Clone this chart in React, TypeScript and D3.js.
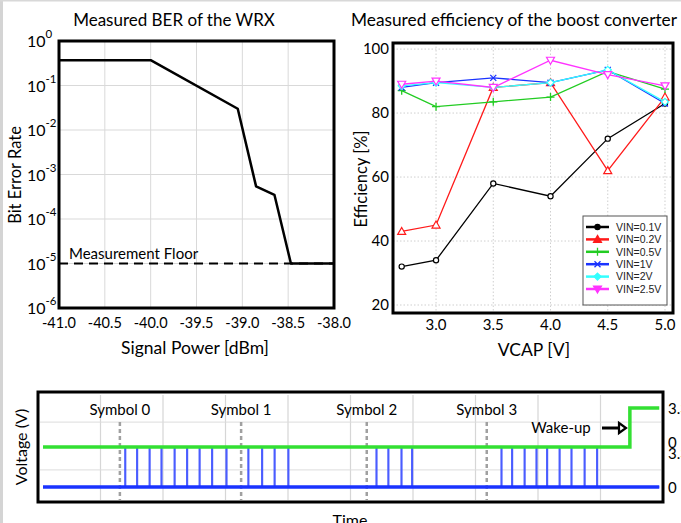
import * as d3 from 'd3';

// --- BER plot data ---
const berPower = [-41, -40, -39.05, -38.85, -38.65, -38.47, -38.0];
const berRate = [0.37, 0.37, 0.03, 5.4e-4, 3.5e-4, 1e-5, 1e-5];
const floorLevel = 1e-5;
const berXTicks = [-41, -40.5, -40, -39.5, -39, -38.5, -38];
const berExps = [0, -1, -2, -3, -4, -5, -6];

// --- efficiency plot data ---
const vcap = [2.7, 3.0, 3.5, 4.0, 4.5, 5.0];
const eff01 = [32, 34, 58, 54, 72, 83];
const eff02 = [43, 45, 88, 89.5, 62, 85];
const eff05 = [87, 82, 83.5, 85, 93, 87.5];
const eff1 = [88, 89.5, 91, 89.5, 93.5, 83];
const eff2 = [88.5, 89.5, 88, 89.5, 93.5, 83.5];
const eff25 = [89, 90, 88, 96.5, 92, 88.5];
const effSeries = [
  { name: 'VIN=0.1V', values: eff01, color: '#000000', marker: 'circle' },
  { name: 'VIN=0.2V', values: eff02, color: '#ff1a1a', marker: 'tri' },
  { name: 'VIN=0.5V', values: eff05, color: '#22cc22', marker: 'plus' },
  { name: 'VIN=1V', values: eff1, color: '#1a33ff', marker: 'x' },
  { name: 'VIN=2V', values: eff2, color: '#33ffff', marker: 'diamond' },
  { name: 'VIN=2.5V', values: eff25, color: '#ff33ff', marker: 'triDown' },
];
const effXTicks = [3.0, 3.5, 4.0, 4.5, 5.0];
const effYTicks = [20, 40, 60, 80, 100];

// --- scope trace data (time in divisions) ---
const pulseTimes = [
  1.39, 1.58, 1.78, 1.97, 2.18, 2.38, 2.58, 2.78, 3.01,
  3.36, 3.58, 3.78, 4.0,
  5.41, 5.6, 5.81, 5.98,
  7.41, 7.58, 7.78, 7.97, 8.14, 8.34, 8.53, 8.74, 8.94,
];
const symbolTimes = [1.31, 3.25, 5.26, 7.18];
const symbolLabels = ['Symbol 0', 'Symbol 1', 'Symbol 2', 'Symbol 3'];
const traceStart = 0.08;
const traceEnd = 9.94;
const wakeTime = 9.47;
const vHigh = 3.3;
const greenOffset = 3.39;
const scopeGridX = [1, 2, 3, 4, 5, 6, 7, 8, 9];
const scopeGridY = [1.45, 5.5];

const FONT = 'Lato, "Open Sans", sans-serif';

function Marker({ type, x, y, color, filled }: any) {
  const fill = filled ? color : 'white';
  if (type === 'circle') return <circle cx={x} cy={y} r={2.6} fill={fill} stroke={color} strokeWidth={1.2} />;
  if (type === 'tri')
    return <path d={`M${x},${y - 4}L${x + 4},${y + 3}L${x - 4},${y + 3}Z`} fill={fill} stroke={color} strokeWidth={1.2} />;
  if (type === 'triDown')
    return <path d={`M${x},${y + 4}L${x + 4},${y - 3}L${x - 4},${y - 3}Z`} fill={fill} stroke={color} strokeWidth={1.2} />;
  if (type === 'diamond')
    return <path d={`M${x},${y - 3.5}L${x + 3.5},${y}L${x},${y + 3.5}L${x - 3.5},${y}Z`} fill={fill} stroke={color} strokeWidth={1.2} />;
  if (type === 'plus')
    return <path d={`M${x - 4},${y}H${x + 4}M${x},${y - 4}V${y + 4}`} stroke={color} strokeWidth={1.3} />;
  return <path d={`M${x - 3},${y - 3}L${x + 3},${y + 3}M${x - 3},${y + 3}L${x + 3},${y - 3}`} stroke={color} strokeWidth={1.3} />;
}

function BerChart() {
  const x = d3.scaleLinear().domain([-41, -38]).range([59, 334]);
  const y = d3.scaleLog().domain([1e-6, 1]).range([308, 41]);
  const line = d3.line<number>().x((_, i) => x(berPower[i])).y((d) => y(d));
  return (
    <g fontFamily={FONT}>
      <text x={174} y={26} fontSize={17} textAnchor="middle">Measured BER of the WRX</text>
      {berXTicks.map((t) => (
        <line key={'gx' + t} x1={x(t)} x2={x(t)} y1={41} y2={308} stroke="#d9d9d9" strokeWidth={1} />
      ))}
      {berExps.map((e) => (
        <line key={'gy' + e} x1={59} x2={334} y1={y(10 ** e)} y2={y(10 ** e)} stroke="#d9d9d9" strokeWidth={1} />
      ))}
      <line x1={x(-41)} x2={x(-38)} y1={y(floorLevel)} y2={y(floorLevel)} stroke="#000" strokeWidth={2} strokeDasharray="9,6" />
      <path d={line(berRate) || ''} fill="none" stroke="#000" strokeWidth={2.5} strokeLinejoin="round" />
      <rect x={59} y={41} width={275} height={267} fill="none" stroke="#000" strokeWidth={3} />
      <text x={69} y={y(floorLevel) - 5} fontSize={15}>Measurement Floor</text>
      {berExps.map((e) => (
        <text key={'ty' + e} x={27} y={y(10 ** e) + 6} fontSize={16}>
          10<tspan dy={-9} fontSize={11.5}>{e === 0 ? '0' : '-' + Math.abs(e)}</tspan>
        </text>
      ))}
      {berXTicks.map((t) => (
        <text key={'tx' + t} x={x(t)} y={328} fontSize={14.5} textAnchor="middle">{t.toFixed(1)}</text>
      ))}
      <text x={195} y={354} fontSize={17.5} textAnchor="middle">Signal Power [dBm]</text>
      <text transform="translate(21,175) rotate(-90)" fontSize={16.5} textAnchor="middle">Bit Error Rate</text>
    </g>
  );
}

function EffChart() {
  const x = d3.scaleLinear().domain([2.624, 5.07]).range([393, 673]);
  const y = d3.scaleLinear().domain([17.5, 101.9]).range([313, 43]);
  const line = d3.line<number>().x((_, i) => x(vcap[i])).y((d) => y(d));
  const legY = d3.scaleLinear().domain([0, 5]).range([227, 289]);
  return (
    <g fontFamily={FONT}>
      <text x={514} y={26} fontSize={17.3} textAnchor="middle">Measured efficiency of the boost converter</text>
      {effXTicks.map((t) => (
        <line key={'gx' + t} x1={x(t)} x2={x(t)} y1={43} y2={313} stroke="#cfcfcf" strokeWidth={1} strokeDasharray="1.5,2" />
      ))}
      {effYTicks.map((t) => (
        <line key={'gy' + t} x1={393} x2={673} y1={y(t)} y2={y(t)} stroke="#cfcfcf" strokeWidth={1} strokeDasharray="1.5,2" />
      ))}
      {effSeries.map((s) => (
        <g key={s.name}>
          <path d={line(s.values) || ''} fill="none" stroke={s.color} strokeWidth={1.3} />
          {s.values.map((v, i) => (
            <Marker key={i} type={s.marker} x={x(vcap[i])} y={y(v)} color={s.color} filled={false} />
          ))}
        </g>
      ))}
      <rect x={393} y={43} width={280} height={270} fill="none" stroke="#000" strokeWidth={3} />
      <rect x={583} y={216} width={84} height={89} fill="white" stroke="#555" strokeWidth={1} />
      {effSeries.map((s, i) => (
        <g key={'leg' + s.name}>
          <line x1={586} x2={609} y1={legY(i)} y2={legY(i)} stroke={s.color} strokeWidth={2.5} />
          <Marker type={s.marker} x={597.5} y={legY(i)} color={s.color} filled={true} />
          <text x={616} y={legY(i) + 3.8} fontSize={10.5} fontFamily='"Liberation Sans", Arial, sans-serif' fill="#222">
            {s.name}
          </text>
        </g>
      ))}
      {effYTicks.map((t) => (
        <text key={'ty' + t} x={389} y={y(t) + 5} fontSize={15} textAnchor="end">{t}</text>
      ))}
      {effXTicks.map((t) => (
        <text key={'tx' + t} x={x(t)} y={330} fontSize={15} textAnchor="middle">{t.toFixed(1)}</text>
      ))}
      <text x={534} y={356} fontSize={17.5} textAnchor="middle">VCAP [V]</text>
      <text transform="translate(367,179) rotate(-90)" fontSize={16.5} textAnchor="middle">Efficiency [%]</text>
    </g>
  );
}

function ScopeChart() {
  const x = d3.scaleLinear().domain([0, 10]).range([38, 663]);
  const y = d3.scaleLinear().domain([-1.27, 8.05]).range([502, 392]);
  const bluePts: [number, number][] = [[traceStart, 0]];
  pulseTimes.forEach((t) => {
    bluePts.push([t, 0], [t, vHigh], [t + 0.012, vHigh], [t + 0.012, 0]);
  });
  bluePts.push([traceEnd, 0]);
  const greenPts: [number, number][] = [
    [traceStart, greenOffset],
    [wakeTime, greenOffset],
    [wakeTime, greenOffset + vHigh],
    [traceEnd, greenOffset + vHigh],
  ];
  const line = d3.line<[number, number]>().x((d) => x(d[0])).y((d) => y(d[1]));
  const arrowY = 428;
  return (
    <g fontFamily={FONT}>
      {scopeGridX.map((t) => (
        <line key={'gx' + t} x1={x(t)} x2={x(t)} y1={395} y2={500} stroke="#d6d6d6" strokeWidth={1.2} />
      ))}
      {scopeGridY.map((v) => (
        <line key={'gy' + v} x1={40} x2={661} y1={y(v)} y2={y(v)} stroke="#dcdcdc" strokeWidth={1} />
      ))}
      {symbolTimes.map((t) => (
        <line key={'sym' + t} x1={x(t)} x2={x(t)} y1={422} y2={500} stroke="#a0a0a0" strokeWidth={2.5} strokeDasharray="4,3" />
      ))}
      <path d={line(bluePts) || ''} fill="none" stroke="#4a5cff" strokeWidth={1.4} />
      <line x1={x(traceStart)} x2={x(traceEnd)} y1={y(0)} y2={y(0)} stroke="#1a33ff" strokeWidth={3.5} />
      <path d={line(greenPts) || ''} fill="none" stroke="#33e033" strokeWidth={3.5} />
      <rect x={38} y={392} width={625} height={110} fill="none" stroke="#000" strokeWidth={3} />
      {symbolTimes.map((t, i) => (
        <text key={'sl' + t} x={x(t)} y={415} fontSize={15} textAnchor="middle">{symbolLabels[i]}</text>
      ))}
      <text x={561} y={arrowY + 5} fontSize={15} textAnchor="middle">Wake-up</text>
      <line x1={602} x2={619} y1={arrowY} y2={arrowY} stroke="#000" strokeWidth={3} />
      <path d={`M619,${arrowY - 5}L626,${arrowY}L619,${arrowY + 5}Z`} fill="white" stroke="#000" strokeWidth={2.2} />
      <text x={668} y={y(greenOffset + vHigh) + 6} fontSize={15}>3.3</text>
      <text x={668} y={y(greenOffset) + 1} fontSize={15}>0</text>
      <text x={668} y={y(vHigh) + 11} fontSize={15}>3.3</text>
      <text x={668} y={y(0) + 6} fontSize={15}>0</text>
      <text transform="translate(27,447) rotate(-90)" fontSize={16} textAnchor="middle">Voltage (V)</text>
      <text x={350} y={526} fontSize={16} textAnchor="middle">Time</text>
    </g>
  );
}

export default function App() {
  return (
    <svg width={681} height={523} style={{ position: 'absolute', left: 0, top: 0, background: 'white' }}>
      <rect x={0} y={0} width={681} height={523} fill="white" />
      <rect x={0} y={0} width={3} height={523} fill="#d4d4d4" />
      <rect x={0} y={0} width={681} height={1.5} fill="#d8d8d8" />
      <BerChart />
      <EffChart />
      <ScopeChart />
    </svg>
  );
}
